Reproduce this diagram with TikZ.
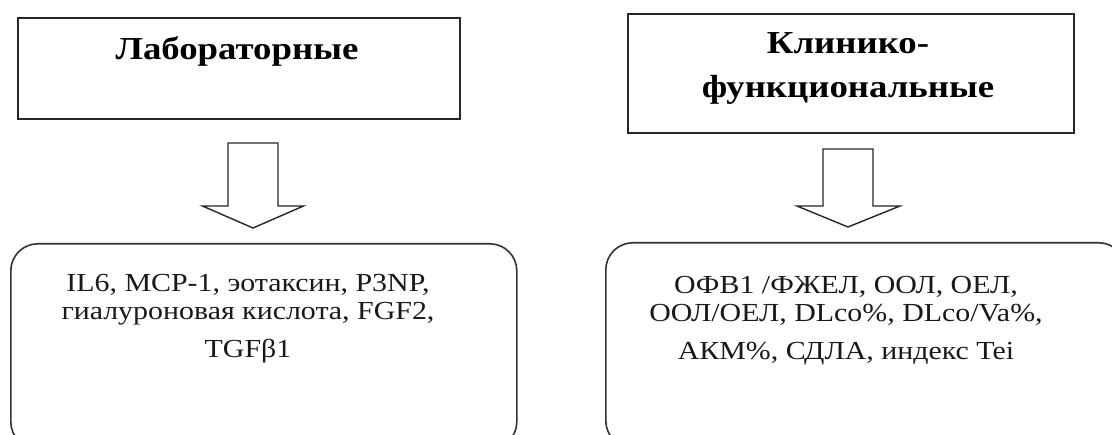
\documentclass[tikz,border=0pt]{standalone}
\usepackage{fontspec}
\setmainfont[FakeStretch=1.15]{Liberation Serif}
\begin{document}
\begin{tikzpicture}[x=1pt,y=-1pt,
  headbox/.style={draw=black!85, line width=1.8pt, inner sep=0pt, anchor=north west},
  listbox/.style={draw=black!80, line width=1.6pt, rounded corners=27pt, inner sep=0pt, anchor=north west},
  blockarrow/.style={draw=black!85, line width=1.4pt, fill=white, line join=miter},
  headtext/.style={font=\fontsize{32}{44}\selectfont\bfseries, align=center, inner sep=0pt, text=black},
  listtext/.style={font=\fontsize{26}{28}\selectfont, align=center, inner sep=0pt, text=black!90}]
\useasboundingbox (0,0) rectangle (1112,435);
\clip (0,0) rectangle (1112,435);
\fill[white] (0,0) rectangle (1112,435);

% header boxes
\node[headbox, minimum width=442pt, minimum height=101pt] (lab) at (17,17) {};
\node[headbox, minimum width=446pt, minimum height=119pt] (clin) at (627,13) {};
\node[headtext, anchor=base] (labt) at (237,60) {Лабораторные};
\node[headtext, anchor=base] (clint) at (848,98) {Клинико-\\функциональные};

% list boxes
\node[listbox, minimum width=506pt, minimum height=205pt] (labl) at (10,243) {};
\node[listbox, minimum width=520pt, minimum height=205pt] (clinl) at (605,242) {};
\node[listtext, anchor=base] (labx) at (248,358)
  {IL6, MCP-1, эотаксин, P3NP,\\гиалуроновая кислота, FGF2,\\[10pt]TGFβ1};
\node[listtext, anchor=base] (clinx) at (846,360)
  {ОФВ1 /ФЖЕЛ, ООЛ, ОЕЛ,\\ООЛ/ОЕЛ, DLco\%, DLco/Va\%,\\[10pt]АКМ\%, СДЛА, индекс Tei};

% hollow block arrows between the tiers
\coordinate (a1) at (253,143);
\coordinate (a2) at (848,149);
\draw[blockarrow] (a1) ++(-25,0) -- ++(0,63) -- ++(-25.5,0) -- (253,228) -- (303.5,206) -- ++(-25.5,0) -- ++(0,-63) -- cycle;
\draw[blockarrow] (a2) ++(-25,0) -- ++(0,57) -- ++(-26,0) -- (848,227) -- (900,206) -- ++(-27,0) -- ++(0,-57) -- cycle;
\end{tikzpicture}
\end{document}
